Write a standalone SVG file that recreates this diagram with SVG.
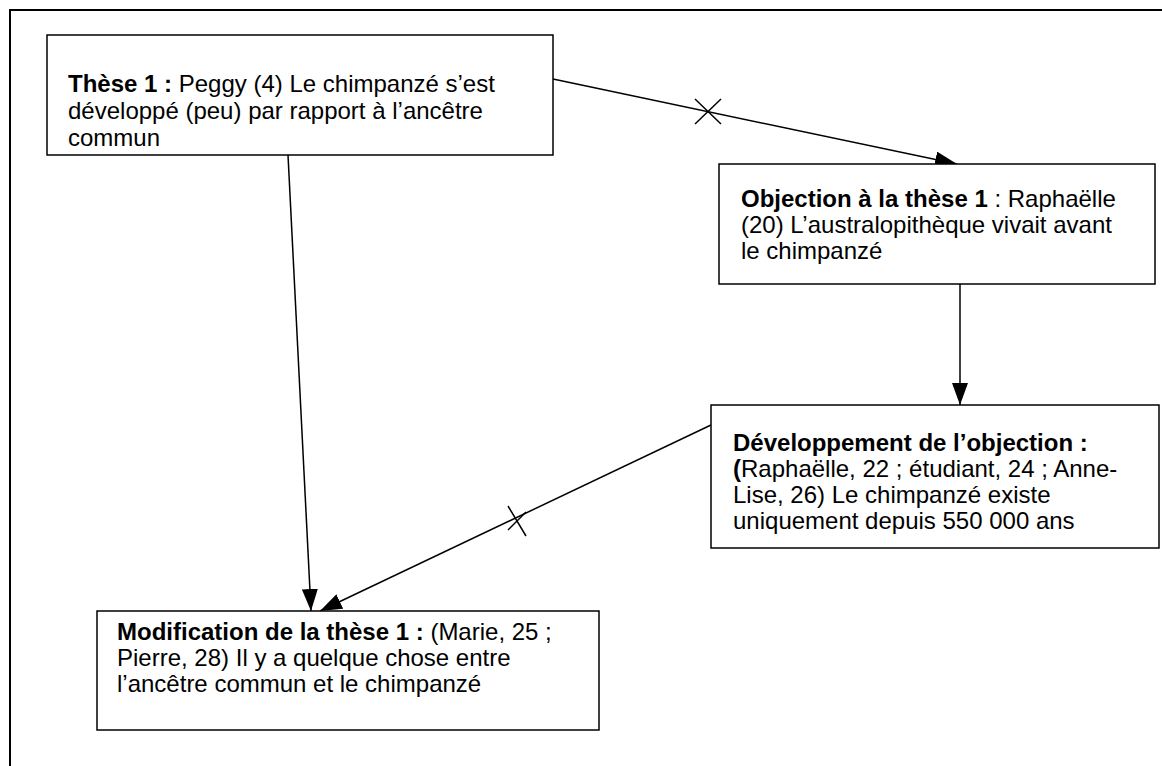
<svg xmlns="http://www.w3.org/2000/svg" width="1162" height="766" viewBox="0 0 1162 766">
<defs>
<marker id="arr" markerWidth="22" markerHeight="16" refX="22" refY="8" orient="auto" markerUnits="userSpaceOnUse">
<path d="M0,0 L22,8 L0,16 Z" fill="#000"/>
</marker>
<style>
.box{fill:#fff;stroke:#000;stroke-width:1.5}
.t{font-family:"Liberation Sans",Arial,sans-serif;font-size:24px;fill:#000}
.b{font-weight:bold}
.c{stroke:#000;stroke-width:1.5;fill:none}
</style>
</defs>
<rect x="0" y="0" width="1162" height="766" fill="#fff"/>
<rect x="10" y="10" width="1200" height="800" fill="none" stroke="#000" stroke-width="2"/>
<g id="connectors">
<line class="c" x1="553" y1="79" x2="957" y2="164" marker-end="url(#arr)"/>
<line class="c" x1="695" y1="99" x2="721" y2="124"/>
<line class="c" x1="695" y1="124" x2="721" y2="99"/>
<line class="c" x1="288" y1="155" x2="311" y2="611" marker-end="url(#arr)"/>
<line class="c" x1="960" y1="284" x2="960" y2="405" marker-end="url(#arr)"/>
<line class="c" x1="711" y1="425" x2="320" y2="611" marker-end="url(#arr)"/>
<line class="c" x1="508" y1="506" x2="526" y2="536"/>
<line class="c" x1="508" y1="530" x2="526" y2="512"/>
</g>
<g id="node1">
<rect class="box" x="47" y="35" width="506" height="120"/>
<text class="t" x="68" y="92"><tspan class="b">Thèse 1 :</tspan> Peggy (4) Le chimpanzé s’est</text>
<text class="t" x="68" y="119">développé (peu) par rapport à l’ancêtre</text>
<text class="t" x="68" y="146">commun</text>
</g>
<g id="node2">
<rect class="box" x="719" y="164" width="436" height="120"/>
<text class="t" x="741" y="207"><tspan class="b">Objection à la thèse 1</tspan> : Raphaëlle</text>
<text class="t" x="741" y="233">(20) L’australopithèque vivait avant</text>
<text class="t" x="741" y="259">le chimpanzé</text>
</g>
<g id="node3">
<rect class="box" x="711" y="405" width="448" height="143"/>
<text class="t" x="733" y="451"><tspan class="b">Développement de l’objection :</tspan></text>
<text class="t" x="733" y="477"><tspan class="b">(</tspan>Raphaëlle, 22 ; étudiant, 24 ; Anne-</text>
<text class="t" x="733" y="503">Lise, 26) Le chimpanzé existe</text>
<text class="t" x="733" y="529">uniquement depuis 550 000 ans</text>
</g>
<g id="node4">
<rect class="box" x="97" y="611" width="502" height="119"/>
<text class="t" x="117" y="640"><tspan class="b">Modification de la thèse 1 :</tspan> (Marie, 25 ;</text>
<text class="t" x="117" y="666">Pierre, 28) Il y a quelque chose entre</text>
<text class="t" x="117" y="692">l’ancêtre commun et le chimpanzé</text>
</g>
</svg>
